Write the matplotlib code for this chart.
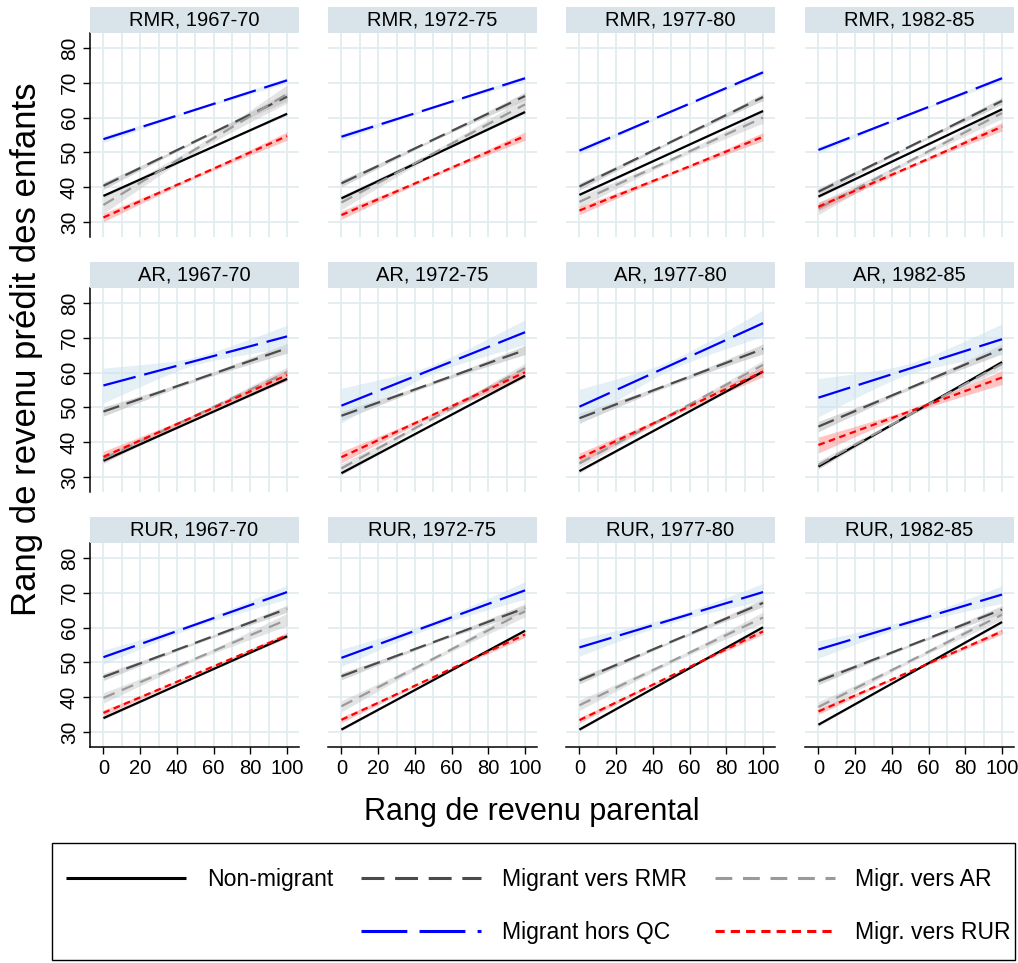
import matplotlib
matplotlib.use("Agg")
import matplotlib.pyplot as plt
import numpy as np
from matplotlib.lines import Line2D
from matplotlib.patches import Rectangle

plt.rcParams['font.family'] = ['Liberation Sans', 'DejaVu Sans']

# ---------------- data ----------------
origins = ["RMR", "AR", "RUR"]
cohorts = ["1967-70", "1972-75", "1977-80", "1982-85"]
series_labels = ["Non-migrant", "Migrant vers RMR", "Migr. vers AR", "Migrant hors QC", "Migr. vers RUR"]
x_ends = [0, 100]

# predicted child rank at parental rank 0 and 100 (rows: origin, cols: cohort)
nonmig_start = [[37.5, 36.8, 37.8, 37.3], [34.7, 31.1, 31.7, 33.0], [34.0, 30.7, 30.7, 32.1]]
nonmig_end = [[61.1, 61.6, 61.9, 62.4], [58.2, 59.1, 60.3, 63.0], [57.5, 59.1, 60.1, 61.6]]
rmr_start = [[40.4, 41.1, 40.2, 38.7], [48.8, 47.6, 46.9, 44.5], [45.8, 46.0, 44.8, 44.6]]
rmr_end = [[66.0, 66.2, 65.9, 64.8], [67.0, 66.5, 66.8, 66.8], [65.4, 65.6, 67.1, 65.2]]
ar_start = [[34.9, 35.6, 35.8, 33.9], [35.2, 32.5, 33.9, 33.5], [39.8, 37.4, 37.7, 37.2]]
ar_end = [[66.8, 63.8, 60.0, 61.3], [60.1, 61.3, 62.2, 62.5], [62.3, 64.7, 62.9, 63.7]]
hqc_start = [[53.8, 54.5, 50.5, 50.7], [56.3, 50.5, 50.2, 52.8], [51.5, 51.3, 54.3, 53.7]]
hqc_end = [[70.7, 71.3, 73.0, 71.3], [70.4, 71.6, 74.2, 69.6], [70.2, 70.7, 70.2, 69.5]]
rur_start = [[31.3, 32.0, 33.3, 34.4], [35.8, 35.7, 35.4, 39.2], [35.5, 33.5, 33.4, 35.9]]
rur_end = [[54.7, 54.7, 54.5, 57.4], [59.3, 60.1, 60.3, 58.6], [57.8, 58.0, 58.9, 58.9]]

# 95% CI half-widths at parental rank 0 and 100
nonmig_ci_start = [[0.4, 0.4, 0.4, 0.4], [0.5, 0.5, 0.5, 0.6], [0.4, 0.4, 0.4, 0.4]]
nonmig_ci_end = [[0.4, 0.4, 0.4, 0.4], [0.5, 0.5, 0.5, 0.6], [0.4, 0.4, 0.4, 0.4]]
rmr_ci_start = [[1.0, 1.0, 1.0, 1.0], [1.3, 1.3, 1.4, 1.5], [1.0, 1.0, 1.0, 1.0]]
rmr_ci_end = [[1.2, 1.1, 1.0, 1.0], [1.4, 1.3, 1.4, 1.4], [1.0, 1.2, 1.1, 1.1]]
ar_ci_start = [[2.4, 2.0, 1.6, 1.8], [1.3, 1.3, 1.2, 1.2], [1.5, 1.6, 1.5, 1.5]]
ar_ci_end = [[2.6, 2.0, 1.6, 1.6], [1.5, 1.4, 1.3, 1.3], [1.8, 1.6, 1.6, 1.4]]
hqc_ci_start = [[1.0, 1.0, 1.0, 1.0], [5.0, 5.0, 5.0, 5.5], [2.0, 2.5, 2.5, 2.5]]
hqc_ci_end = [[0.8, 0.8, 0.8, 0.8], [3.2, 3.6, 3.8, 4.4], [2.0, 2.5, 2.5, 2.5]]
rur_ci_start = [[1.2, 1.2, 1.2, 1.2], [1.6, 1.6, 1.5, 2.3], [0.8, 0.8, 0.8, 0.8]]
rur_ci_end = [[1.2, 1.2, 1.2, 1.2], [1.6, 1.5, 1.5, 2.0], [0.8, 0.8, 0.8, 0.8]]

x_ticks = [0, 20, 40, 60, 80, 100]
y_ticks = [30, 40, 50, 60, 70, 80]
xlabel = "Rang de revenu parental"
ylabel = "Rang de revenu prédit des enfants"

# ---------------- styles ----------------
series = [
    dict(s=nonmig_start, e=nonmig_end, cs=nonmig_ci_start, ce=nonmig_ci_end,
         color="black", band="#a0a0a0", balpha=0.35, dash=None),
    dict(s=rmr_start, e=rmr_end, cs=rmr_ci_start, ce=rmr_ci_end,
         color="#4a4a4a", band="#b8b8b8", balpha=0.55, dash=(7.5, 3.5)),
    dict(s=ar_start, e=ar_end, cs=ar_ci_start, ce=ar_ci_end,
         color="#9a9a9a", band="#c4c4c4", balpha=0.45, dash=(5.5, 3.5)),
    dict(s=hqc_start, e=hqc_end, cs=hqc_ci_start, ce=hqc_ci_end,
         color="#0000ff", band="#cfe3ef", balpha=0.55, dash=(15, 4)),
    dict(s=rur_start, e=rur_end, cs=rur_ci_start, ce=rur_ci_end,
         color="#ff0000", band="#ff7f7f", balpha=0.45, dash=(3, 2)),
]

W, H = 1018, 963
fig = plt.figure(figsize=(W / 100, H / 100), dpi=100)

col_left = [90, 328, 566, 805]
col_w = 209
row_top = [33, 288, 543]
row_h = 204
strip_h = 26
xlim = (-7.3, 106.5)
ylim = (25.7, 84.3)
grid_c = "#e2ecef"
strip_c = "#d8e4e9"

xx = np.linspace(0, 100, 101)

def px(x0, y0, w, h):
    return [x0 / W, 1 - (y0 + h) / H, w / W, h / H]

for r, orig in enumerate(origins):
    for c, coh in enumerate(cohorts):
        ax = fig.add_axes(px(col_left[c], row_top[r], col_w, row_h))
        sax = fig.add_axes(px(col_left[c], row_top[r] - strip_h, col_w, strip_h))
        sax.set_facecolor(strip_c)
        sax.set_xticks([]); sax.set_yticks([])
        for sp in sax.spines.values():
            sp.set_visible(False)
        sax.text(0.5, 0.5, f"{orig}, {coh}", ha="center", va="center",
                 fontsize=14.5, transform=sax.transAxes)

        ax.set_xlim(*xlim)
        ax.set_ylim(*ylim)
        for gx in range(0, 101, 10):
            ax.axvline(gx, color=grid_c, lw=1.3, zorder=0)
        for gy in y_ticks:
            ax.axhline(gy, color=grid_c, lw=1.3, zorder=0)

        for sdef in series:
            y0 = sdef["s"][r][c]; y1 = sdef["e"][r][c]
            w0 = sdef["cs"][r][c]; w1 = sdef["ce"][r][c]
            yy = np.interp(xx, x_ends, [y0, y1])
            wm = 0.35 * min(w0, w1)
            t = (xx - 50) / 50.0
            we = np.where(xx < 50, w0, w1)
            ww = np.sqrt(wm ** 2 + (we ** 2 - wm ** 2) * t ** 2)
            ax.fill_between(xx, yy - ww, yy + ww, color=sdef["band"],
                            alpha=sdef["balpha"], lw=0, zorder=1)
        for sdef in series:
            y0 = sdef["s"][r][c]; y1 = sdef["e"][r][c]
            ln, = ax.plot(x_ends, [y0, y1], color=sdef["color"], lw=1.6, zorder=3,
                          solid_capstyle="butt", dash_capstyle="butt")
            if sdef["dash"] is not None:
                ln.set_dashes(sdef["dash"])

        for sp in ["top", "right"]:
            ax.spines[sp].set_visible(False)
        ax.spines["left"].set_visible(c == 0)
        ax.spines["bottom"].set_visible(r == 2)
        ax.spines["left"].set_linewidth(1.1)
        ax.spines["bottom"].set_linewidth(1.1)
        ax.set_xticks(x_ticks)
        ax.set_yticks(y_ticks)
        ax.tick_params(axis="y", length=5 if c == 0 else 0, width=1.0,
                       labelleft=(c == 0), labelsize=15, pad=3)
        ax.tick_params(axis="x", length=5 if r == 2 else 0, width=1.0,
                       labelbottom=(r == 2), labelsize=14.5, pad=4)
        if c == 0:
            for lab in ax.get_yticklabels():
                lab.set_rotation(90)
                lab.set_va("center")

fig.text(532 / W, 1 - 812 / H, xlabel, ha="center", va="center", fontsize=22)
fig.text(27 / W, 1 - 349 / H, ylabel, ha="center", va="center", fontsize=25, rotation=90)

# legend
handles = []
for sdef, lab in zip(series, series_labels):
    h = Line2D([], [], color=sdef["color"], lw=2.2, solid_capstyle="butt", dash_capstyle="butt")
    if sdef["dash"] is not None:
        h.set_dashes(sdef["dash"])
    handles.append(h)
blank = Line2D([], [], color="none")
order_h = [handles[0], blank, handles[1], handles[3], handles[2], handles[4]]
order_l = [series_labels[0], "", series_labels[1], series_labels[3], series_labels[2], series_labels[4]]
leg = fig.legend(order_h, order_l, ncol=3, loc="upper left",
                 bbox_to_anchor=(66 / W, 1 - 868 / H),
                 fontsize=16.6, handlelength=5.2, handletextpad=0.9,
                 columnspacing=1.22, labelspacing=1.3, borderpad=0.0,
                 frameon=False, borderaxespad=0.0)
fig.add_artist(Rectangle((52 / W, 1 - 960 / H), (1015 - 52) / W, (960 - 843) / H,
                         transform=fig.transFigure, fill=False, edgecolor="black", lw=1.0))

fig.savefig("out.png", dpi=100, facecolor="white")
